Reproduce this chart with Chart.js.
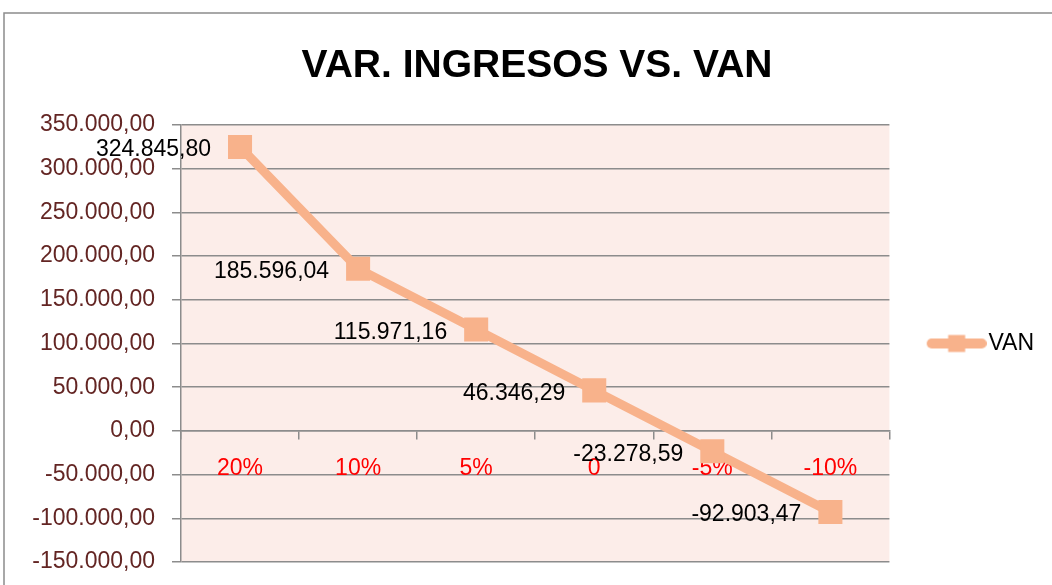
<!DOCTYPE html>
<html>
<head>
<meta charset="utf-8">
<title>VAR. INGRESOS VS. VAN</title>
<script src="https://cdn.jsdelivr.net/npm/chart.js@4"></script>
<style>
  html, body { margin: 0; padding: 0; background: #fff; overflow: hidden; }
</style>
</head>
<body>
<canvas id="chart" width="1052" height="585"></canvas>
<script>
// --- DATA ---
const categories = ['20%', '10%', '5%', '0', '-5%', '-10%'];
const vanValues = [324845.80, 185596.04, 115971.16, 46346.29, -23278.59, -92903.47];
const seriesName = 'VAN';
const yMin = -150000;
const yMax = 350000;
const yStep = 50000;

// --- STYLE ---
const LINE_COLOR = '#F8B28B';
const GRID_COLOR = '#8C8C8C';
const FONT = 'Liberation Sans, Arial, sans-serif';

// 1234567.8 -> "1.234.567,80"
const fmtEs = (v) => {
    const neg = v < 0;
    const [ent, dec] = Math.abs(v).toFixed(2).split('.');
    return (neg ? '-' : '') + ent.replace(/\B(?=(\d{3})+(?!\d))/g, '.') + ',' + dec;
};

// legend marker: thick line with a square in the middle
const makeLegendIcon = () => {
    const c = document.createElement('canvas');
    c.width = 97;
    c.height = 20;
    const g = c.getContext('2d');
    g.strokeStyle = LINE_COLOR;
    g.lineWidth = 10;
    g.lineCap = 'round';
    g.beginPath();
    g.moveTo(42, 10);
    g.lineTo(92, 10);
    g.stroke();
    g.fillStyle = LINE_COLOR;
    g.fillRect(58.5, 1.5, 17, 17);
    return c;
};

const backgroundPlugin = {
    id: 'background',
    beforeDraw(chart) {
        const { ctx, chartArea } = chart;
        ctx.save();
        ctx.fillStyle = '#FFFFFF';
        ctx.fillRect(0, 0, chart.width, chart.height);
        ctx.strokeStyle = GRID_COLOR;
        ctx.lineWidth = 1.5;
        ctx.strokeRect(4, 13, chart.width + 20, chart.height + 20);
        ctx.fillStyle = '#FCEDE9';
        ctx.fillRect(chartArea.left, chartArea.top, chartArea.right - chartArea.left, chartArea.bottom - chartArea.top);
        ctx.restore();
    }
};

const dataLabelPlugin = {
    id: 'valueLabels',
    afterDatasetsDraw(chart) {
        const { ctx } = chart;
        const meta = chart.getDatasetMeta(0);
        ctx.save();
        ctx.font = '23px ' + FONT;
        ctx.fillStyle = '#000000';
        ctx.textAlign = 'right';
        ctx.textBaseline = 'middle';
        meta.data.forEach((pt, i) => {
            ctx.fillText(fmtEs(vanValues[i]), pt.x - 29, pt.y + 3);
        });
        ctx.restore();
    }
};

new Chart(document.getElementById('chart'), {
    type: 'line',
    data: {
        labels: categories,
        datasets: [{
            label: seriesName,
            data: vanValues,
            borderColor: LINE_COLOR,
            backgroundColor: LINE_COLOR,
            borderWidth: 9,
            tension: 0,
            pointStyle: 'rect',
            pointRadius: 17,
            pointHoverRadius: 17,
            pointBorderWidth: 0,
            pointBackgroundColor: LINE_COLOR
        }]
    },
    options: {
        responsive: false,
        animation: false,
        layout: { padding: { left: 30, right: 8, top: 0, bottom: 23 } },
        plugins: {
            title: {
                display: true,
                text: 'VAR. INGRESOS VS. VAN',
                color: '#000000',
                font: { family: FONT, size: 39, weight: 'bold' },
                padding: { top: 42.6, bottom: 35.6 }
            },
            legend: {
                display: true,
                position: 'right',
                fullSize: false,
                labels: {
                    usePointStyle: true,
                    pointStyle: makeLegendIcon(),
                    pointStyleWidth: 77.5,
                    padding: 10,
                    color: '#000000',
                    font: { family: FONT, size: 23 }
                }
            },
            tooltip: { enabled: false }
        },
        scales: {
            x: {
                type: 'category',
                position: { y: 0 },
                offset: true,
                grid: {
                    display: true,
                    drawOnChartArea: false,
                    drawTicks: true,
                    tickLength: 8,
                    offset: true,
                    color: GRID_COLOR,
                    lineWidth: 1.5
                },
                border: { display: true, color: GRID_COLOR, width: 1.5 },
                ticks: {
                    color: '#FF0000',
                    font: { family: FONT, size: 23 },
                    padding: 16,
                    maxRotation: 0,
                    autoSkip: false
                }
            },
            y: {
                min: yMin,
                max: yMax,
                afterFit: (scale) => {
                    scale.width = 151;
                    scale.paddingTop = 0;
                    scale.paddingBottom = 0;
                },
                grid: { color: GRID_COLOR, lineWidth: 1.5, tickLength: 9 },
                border: { display: true, color: GRID_COLOR, width: 1.5 },
                ticks: {
                    stepSize: yStep,
                    color: '#632523',
                    font: { family: FONT, size: 23 },
                    padding: 17,
                    callback: (v) => fmtEs(v)
                }
            }
        }
    },
    plugins: [backgroundPlugin, dataLabelPlugin]
});
</script>
</body>
</html>
